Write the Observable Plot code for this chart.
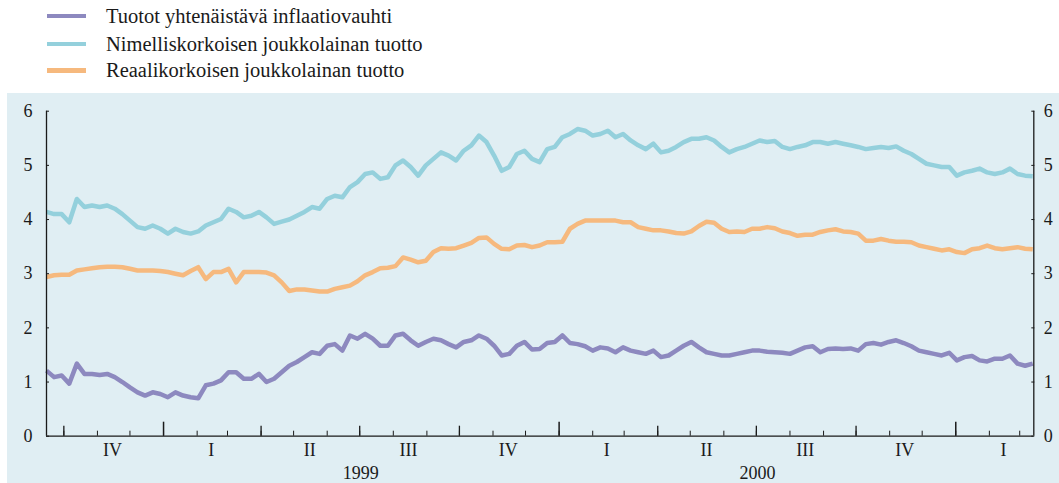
<!DOCTYPE html>
<html><head><meta charset="utf-8">
<script src="https://cdn.jsdelivr.net/npm/d3@7"></script>
<script src="https://cdn.jsdelivr.net/npm/@observablehq/plot@0.6"></script>
<style>
body{margin:0;width:1059px;height:483px;position:relative;background:#fff;font-family:"Liberation Serif","Times New Roman",serif;color:#1a1a1a;overflow:hidden}
#legend{position:absolute;left:0;top:0;width:1059px;height:93px}
.row{position:absolute;left:47px;display:flex;align-items:center;height:20.5px;font-family:"Liberation Serif",serif;font-size:20.5px;line-height:20.5px;white-space:nowrap}
.row span{font-family:"Liberation Serif",serif}
.sw{width:39px;height:4.5px;margin-right:20px;flex:none}
#chart{position:absolute;left:7px;top:93px}
</style></head><body>
<div id="legend"></div><div id="chart"></div>
<script>
// Series names and colours
const seriesNames = ["Tuotot yhtenäistävä inflaatiovauhti", "Nimelliskorkoisen joukkolainan tuotto", "Reaalikorkoisen joukkolainan tuotto"];
const seriesColors = ["#8d89bf", "#94d0dc", "#f6b97e"];
// weekly observations starting 1998-09-15
const startDate = "1998-09-15";
const endDate = "2001-03-14";
const inflation = [1.21,1.09,1.12,0.97,1.34,1.15,1.15,1.13,1.15,1.09,
1.00,0.90,0.81,0.75,0.81,0.78,0.72,0.81,0.75,0.72,
0.70,0.94,0.97,1.03,1.18,1.18,1.06,1.06,1.15,1.00,
1.06,1.18,1.30,1.37,1.46,1.55,1.52,1.67,1.70,1.58,
1.86,1.80,1.89,1.80,1.67,1.67,1.86,1.89,1.77,1.67,
1.74,1.80,1.77,1.70,1.64,1.74,1.77,1.86,1.80,1.67,
1.49,1.52,1.67,1.74,1.60,1.61,1.72,1.74,1.86,1.72,
1.70,1.66,1.58,1.64,1.62,1.55,1.64,1.58,1.55,1.52,
1.58,1.46,1.49,1.58,1.67,1.74,1.64,1.55,1.52,1.49,
1.49,1.52,1.55,1.58,1.58,1.56,1.55,1.54,1.52,1.58,
1.64,1.66,1.55,1.61,1.62,1.61,1.62,1.58,1.70,1.72,
1.69,1.74,1.77,1.72,1.66,1.58,1.55,1.52,1.49,1.54,
1.40,1.46,1.48,1.40,1.38,1.43,1.43,1.49,1.34,1.30,1.34];
const nominal = [4.14,4.10,4.10,3.95,4.38,4.23,4.26,4.23,4.26,4.20,
4.10,3.98,3.86,3.83,3.89,3.83,3.74,3.83,3.77,3.74,
3.78,3.89,3.95,4.01,4.20,4.14,4.04,4.07,4.14,4.04,
3.92,3.96,4.00,4.07,4.14,4.23,4.20,4.38,4.44,4.41,
4.60,4.69,4.84,4.87,4.75,4.78,5.00,5.09,4.97,4.81,
5.00,5.12,5.24,5.18,5.09,5.27,5.37,5.55,5.43,5.18,
4.90,4.97,5.21,5.27,5.12,5.06,5.30,5.34,5.52,5.58,
5.67,5.64,5.55,5.58,5.64,5.52,5.58,5.46,5.37,5.30,
5.40,5.24,5.27,5.34,5.43,5.49,5.49,5.52,5.46,5.34,
5.24,5.30,5.34,5.40,5.46,5.43,5.45,5.34,5.30,5.34,
5.37,5.43,5.43,5.40,5.43,5.40,5.37,5.34,5.30,5.32,
5.34,5.32,5.35,5.27,5.21,5.12,5.03,5.00,4.97,4.97,
4.81,4.87,4.90,4.94,4.87,4.84,4.87,4.94,4.84,4.81,4.80];
const real = [2.94,2.97,2.98,2.98,3.06,3.08,3.10,3.12,3.13,3.13,
3.12,3.09,3.06,3.06,3.06,3.05,3.03,3.00,2.97,3.05,
3.12,2.90,3.03,3.03,3.09,2.84,3.03,3.03,3.03,3.02,
2.97,2.84,2.68,2.71,2.71,2.69,2.67,2.67,2.72,2.75,
2.78,2.86,2.97,3.03,3.10,3.11,3.14,3.30,3.26,3.21,
3.24,3.40,3.47,3.46,3.47,3.52,3.57,3.66,3.67,3.55,
3.46,3.45,3.52,3.53,3.49,3.52,3.58,3.58,3.59,3.83,
3.92,3.98,3.98,3.98,3.98,3.98,3.95,3.95,3.86,3.83,
3.80,3.80,3.78,3.75,3.74,3.78,3.88,3.96,3.94,3.83,
3.77,3.78,3.77,3.83,3.83,3.86,3.84,3.78,3.75,3.70,
3.72,3.72,3.77,3.80,3.82,3.78,3.77,3.74,3.61,3.61,
3.64,3.61,3.59,3.59,3.58,3.52,3.49,3.46,3.43,3.45,
3.40,3.38,3.45,3.47,3.52,3.47,3.45,3.47,3.49,3.46,3.45];
const yTicks = [0,1,2,3,4,5,6];
const quarterLabels = ["IV","I","II","III","IV","I","II","III","IV","I"];
const quarterMid = ["1998-11-15","1999-02-14","1999-05-16","1999-08-15","1999-11-15","2000-02-14","2000-05-16","2000-08-15","2000-11-15","2001-02-14"];
const yearLabels = ["1999","2000"];
const yearMid = ["1999-07-02","2000-07-02"];

const parse = d3.utcParse("%Y-%m-%d");
const t0 = parse(startDate), t1 = parse(endDate);
const allSeries = [inflation, nominal, real];
const data = [];
allSeries.forEach((vals, s) => vals.forEach((v, i) => data.push({series: seriesNames[s], date: d3.utcDay.offset(t0, 7 * i), v})));

// legend
const leg = document.getElementById("legend");
const rowCenters = [16, 44, 70.5];
seriesNames.forEach((n, i) => {
  const r = document.createElement("div");
  r.className = "row";
  r.style.top = (rowCenters[i] - 10.25) + "px";
  r.innerHTML = `<span class="sw" style="background:${seriesColors[i]}"></span><span>${n}</span>`;
  leg.appendChild(r);
});

const monthTicks = d3.utcMonth.range(d3.utcMonth.ceil(t0), t1);
const quarterTicks = monthTicks.filter(d => d.getUTCMonth() % 3 === 0 && d.getUTCMonth() !== 0);
const yearTicks = monthTicks.filter(d => d.getUTCMonth() === 0);
const qMid = quarterMid.map(parse), yMid = yearMid.map(parse);
const blank = () => "";
const intFmt = d3.format("d");

const chart = Plot.plot({
  width: 1052, height: 390,
  marginLeft: 39, marginRight: 25.7, marginTop: 17.7, marginBottom: 47.3,
  style: {background: "#e0eef3", fontFamily: "'Liberation Serif', 'Times New Roman', serif", fontSize: "18px", color: "#1a1a1a", overflow: "visible"},
  x: {type: "utc", domain: [t0, t1], label: null},
  y: {domain: [0, 6], label: null},
  color: {domain: seriesNames, range: seriesColors},
  marks: [
    Plot.line(data, {x: "date", y: "v", z: "series", stroke: "series", strokeWidth: 4.5, strokeLinejoin: "round", strokeLinecap: "butt"}),
    Plot.ruleY([0], {stroke: "#1a1a1a", strokeWidth: 1.3}),
    Plot.ruleX([t0, t1], {stroke: "#1a1a1a", strokeWidth: 1.3}),
    Plot.axisY({anchor: "left", ticks: yTicks, tickSize: -3, tickFormat: blank, label: null}),
    Plot.axisY({anchor: "right", ticks: yTicks, tickSize: -3, tickFormat: blank, label: null}),
    Plot.axisY({anchor: "left", ticks: yTicks, tickSize: 0, tickPadding: 14, tickFormat: intFmt, label: null}),
    Plot.axisY({anchor: "right", ticks: yTicks, tickSize: 0, tickPadding: 10, tickFormat: intFmt, label: null}),
    Plot.axisX({anchor: "bottom", ticks: monthTicks, tickSize: -5, tickFormat: blank, label: null}),
    Plot.axisX({anchor: "bottom", ticks: quarterTicks, tickSize: -10, strokeWidth: 1.3, tickFormat: blank, label: null}),
    Plot.axisX({anchor: "bottom", ticks: yearTicks, tickSize: -14, strokeWidth: 1.5, tickFormat: blank, label: null}),
    Plot.axisX({anchor: "bottom", ticks: qMid, tickSize: 0, tickPadding: 7.5, tickFormat: (d, i) => quarterLabels[i], label: null}),
    Plot.axisX({anchor: "bottom", ticks: yMid, tickSize: 0, tickPadding: 30.5, tickFormat: (d, i) => yearLabels[i], label: null})
  ]
});
document.getElementById("chart").appendChild(chart);
</script>
</body></html>
